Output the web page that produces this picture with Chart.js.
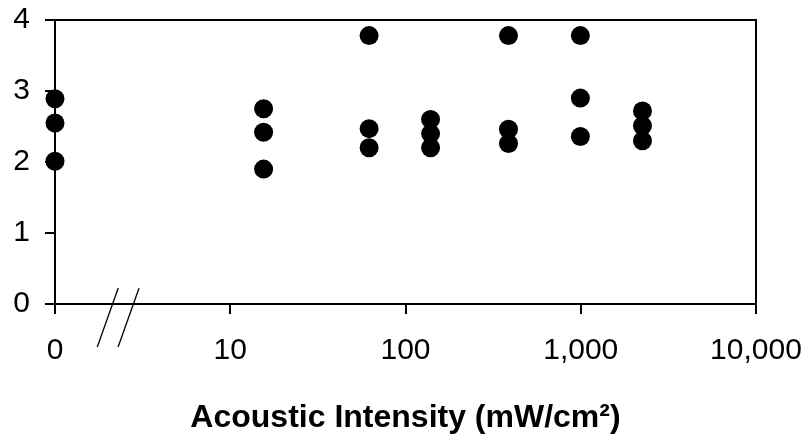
<!DOCTYPE html>
<html>
<head>
<meta charset="utf-8">
<script src="https://cdn.jsdelivr.net/npm/chart.js@4/dist/chart.umd.min.js"></script>
<style>
  html, body { margin: 0; padding: 0; background: #fff; }
  #wrap { width: 811px; height: 444px; }
</style>
</head>
<body>
<div id="wrap"><canvas id="chart" width="811" height="444"></canvas></div>
<script>
// acoustic intensity levels (mW/cm2); 0 is drawn at the axis origin (1 on the log scale)
const intensities = [0, 15.5, 62, 139, 387, 995, 2250];
// measured values at each intensity
const responses = [
    [2.89, 2.55, 2.01],
    [2.75, 2.42, 1.90],
    [3.78, 2.47, 2.20],
    [2.60, 2.40, 2.20],
    [3.78, 2.46, 2.26],
    [3.78, 2.90, 2.36],
    [2.72, 2.51, 2.30]
];
const xTickValues = [1, 10, 100, 1000, 10000];
const xTickLabels = ['0', '10', '100', '1,000', '10,000'];
const yTickValues = [0, 1, 2, 3, 4];
const xTitle = 'Acoustic Intensity (mW/cm\u00B2)';
// where the axis break slashes sit, in log-scale units
const breakAt = [2.0, 2.63];

const zeroPosition = 1;

const points = [];
intensities.forEach((v, i) => {
    responses[i].forEach(r => {
        points.push({ x: v === 0 ? zeroPosition : v, y: r });
    });
});

const fontFamily = '"Liberation Sans", Arial, sans-serif';

// frame round the plot and the // break on the x axis
const framePlugin = {
    id: 'frame',
    beforeDatasetsDraw(chart) {
        const { ctx, chartArea } = chart;
        const xs = chart.scales.x;
        ctx.save();
        ctx.strokeStyle = '#000';
        ctx.lineWidth = 2;
        ctx.beginPath();
        ctx.moveTo(chartArea.left, chartArea.top);
        ctx.lineTo(chartArea.right, chartArea.top);
        ctx.lineTo(chartArea.right, chartArea.bottom);
        ctx.stroke();

        ctx.lineWidth = 1.3;
        breakAt.forEach(b => {
            const cx = xs.getPixelForValue(b);
            ctx.beginPath();
            ctx.moveTo(cx - 10.5, chartArea.bottom + 43);
            ctx.lineTo(cx + 10.5, chartArea.bottom - 16);
            ctx.stroke();
        });
        ctx.restore();
    }
};

new Chart(document.getElementById('chart').getContext('2d'), {
    type: 'scatter',
    data: {
        datasets: [{
            data: points,
            backgroundColor: '#000',
            borderColor: '#000',
            borderWidth: 0,
            pointRadius: 9.5,
            pointHoverRadius: 9.5,
            clip: false
        }]
    },
    options: {
        responsive: false,
        animation: false,
        layout: { padding: { top: 20, right: 55, left: 0, bottom: 0 } },
        plugins: {
            legend: { display: false },
            tooltip: { enabled: false }
        },
        scales: {
            x: {
                type: 'logarithmic',
                min: 1,
                max: 10000,
                afterBuildTicks: scale => {
                    scale.ticks = xTickValues.map(v => ({ value: v }));
                },
                afterFit: scale => {
                    scale.height = 140;
                    scale.paddingLeft = 0;
                    scale.paddingRight = 0;
                },
                ticks: {
                    autoSkip: false,
                    maxRotation: 0,
                    padding: 19,
                    color: '#000',
                    font: { family: fontFamily, size: 30 },
                    callback: (value) => {
                        const i = xTickValues.indexOf(value);
                        return i >= 0 ? xTickLabels[i] : '';
                    }
                },
                grid: {
                    drawOnChartArea: false,
                    drawTicks: true,
                    tickLength: 10,
                    color: '#000',
                    lineWidth: 2
                },
                border: { color: '#000', width: 2 },
                title: {
                    display: true,
                    text: xTitle,
                    color: '#000',
                    font: { family: fontFamily, size: 32, weight: 'bold' },
                    padding: { top: 0, bottom: 7 }
                }
            },
            y: {
                min: 0,
                max: 4,
                afterBuildTicks: scale => {
                    scale.ticks = yTickValues.map(v => ({ value: v }));
                },
                afterFit: scale => {
                    scale.width = 55;
                    scale.paddingTop = 0;
                    scale.paddingBottom = 0;
                },
                ticks: {
                    padding: 15,
                    color: '#000',
                    font: { family: fontFamily, size: 30 }
                },
                grid: {
                    drawOnChartArea: false,
                    drawTicks: true,
                    tickLength: 10,
                    color: '#000',
                    lineWidth: 2
                },
                border: { color: '#000', width: 2 }
            }
        }
    },
    plugins: [framePlugin]
});
</script>
</body>
</html>
